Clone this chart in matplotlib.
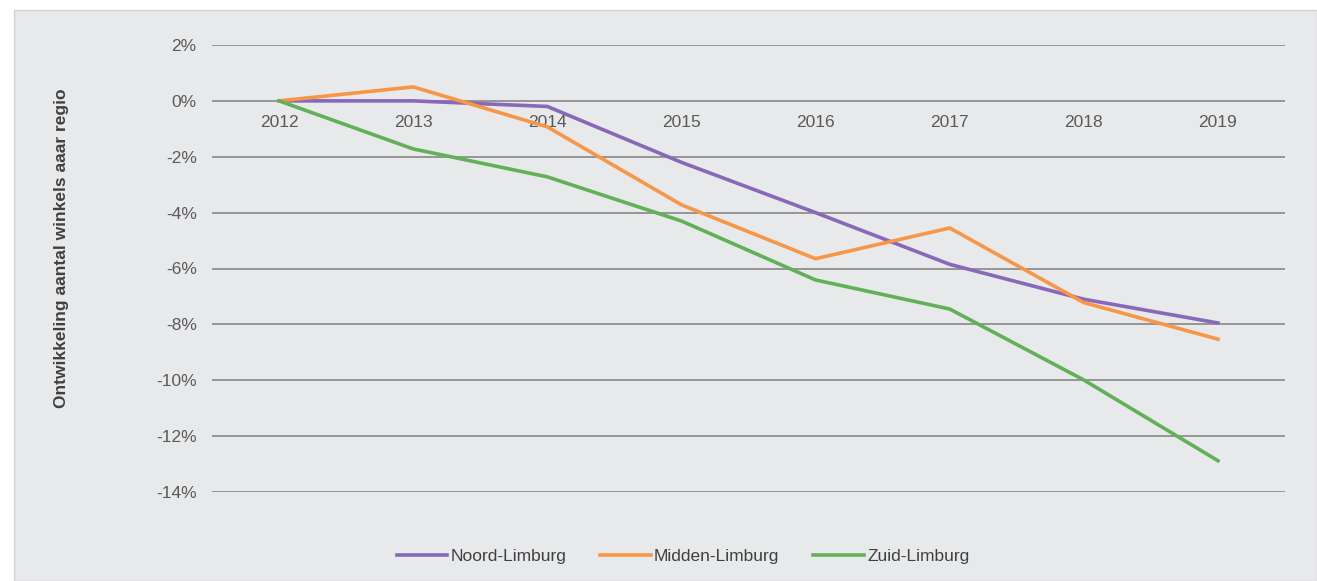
import matplotlib
matplotlib.use("Agg")
import matplotlib.pyplot as plt
from matplotlib.patches import Rectangle
from matplotlib.ticker import FuncFormatter

years = ["2012", "2013", "2014", "2015", "2016", "2017", "2018", "2019"]
noord = [0.0, 0.0, -0.2, -2.2, -4.0, -5.85, -7.1, -7.95]
midden = [0.0, 0.5, -0.93, -3.72, -5.65, -4.55, -7.22, -8.53]
zuid = [0.0, -1.72, -2.72, -4.3, -6.41, -7.45, -9.99, -12.88]
series_names = ["Noord-Limburg", "Midden-Limburg", "Zuid-Limburg"]
colors = ["#8868b8", "#f79646", "#62b158"]
yticks = [2, 0, -2, -4, -6, -8, -10, -12, -14]

W, H = 1317, 581
fig = plt.figure(figsize=(W / 100, H / 100), dpi=100)
fig.patch.set_facecolor("white")
bg = "#e8e9eb"
fig.patches.append(Rectangle((14 / W, 0), 1 - 14 / W, 1 - 10 / H, transform=fig.transFigure,
                             facecolor=bg, edgecolor="#d4d4d4", linewidth=1, zorder=-5))

ax = fig.add_axes([212 / W, 1 - 492 / H, (1285 - 212) / W, (492 - 45) / H])
ax.set_zorder(2)
ax.set_facecolor("none")
x = list(range(len(years)))
for vals, c, n in zip([noord, midden, zuid], colors, series_names):
    ax.plot(x, vals, color=c, lw=2.6, label=n, zorder=3)

ax.set_xlim(-0.5, len(years) - 0.5)
ax.set_ylim(-14, 2)
ax.set_yticks(yticks)
ax.yaxis.set_major_formatter(FuncFormatter(lambda v, p: f"{int(round(v))}%"))
ax.grid(axis="y", color="#8f8f8f", lw=1.3, zorder=1)
ax.set_axisbelow(True)
for s in ax.spines.values():
    s.set_visible(False)
ax.spines["bottom"].set_position(("data", 0))
ax.set_xticks(x)
ax.set_xticklabels(years)
ax.tick_params(axis="both", length=0, labelsize=12.5, labelcolor="#595959")
ax.tick_params(axis="x", pad=10.3)
ax.tick_params(axis="y", pad=11)
for t in ax.get_xticklabels() + ax.get_yticklabels():
    t.set_fontfamily("Liberation Sans")

fig.text(62 / W, 1 - 248 / H, "Ontwikkeling aantal winkels aaar regio", rotation=90,
         ha="center", va="center", fontsize=12.5, fontweight="bold", color="#404040",
         family="Liberation Sans")

leg = fig.legend(loc="center", bbox_to_anchor=(683 / W, 1 - 556 / H), ncol=3, frameon=False,
                 handlelength=2.9, handletextpad=0.2, columnspacing=1.95,
                 prop={"family": "Liberation Sans", "size": 12.5})
for t in leg.get_texts():
    t.set_color("#404040")

fig.savefig("out.png", dpi=100, facecolor=fig.get_facecolor())
